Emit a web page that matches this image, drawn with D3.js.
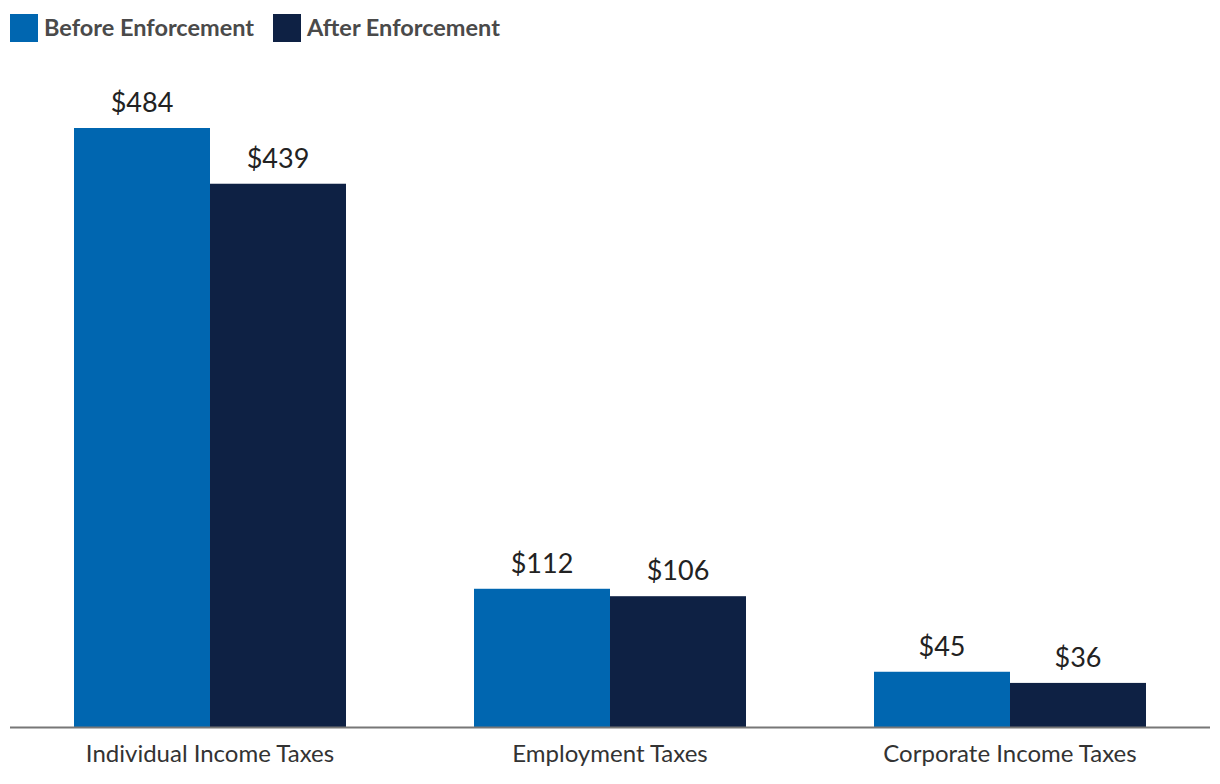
<!DOCTYPE html>
<html><head><meta charset="utf-8">
<script src="https://cdn.jsdelivr.net/npm/d3@7"></script>
<style>body{margin:0;background:#fff;}svg{display:block;font-family:Lato,"Open Sans",sans-serif;}</style>
</head><body>
<svg id="chart" width="1220" height="784"></svg>
<script>
const categories = ["Individual Income Taxes", "Employment Taxes", "Corporate Income Taxes"];
const seriesNames = ["Before Enforcement", "After Enforcement"];
const beforeValues = [484, 112, 45];
const afterValues = [439, 106, 36];
const colors = ["#0066b0", "#0e2144"];

const svg = d3.select("#chart");
const plotLeft = 10, plotRight = 1210, baseline = 727.5, plotTop = 128;

const x0 = d3.scaleBand().domain(categories).range([plotLeft, plotRight]).paddingInner(0.32).paddingOuter(0.16);
const x1 = d3.scaleBand().domain(seriesNames).range([0, x0.bandwidth()]);
const y = d3.scaleLinear().domain([0, 484]).range([baseline, plotTop]);

const data = categories.map((c, i) => ({cat: c, vals: [beforeValues[i], afterValues[i]]}));

const g = svg.selectAll("g.grp").data(data).join("g").attr("class", "grp")
  .attr("transform", d => `translate(${x0(d.cat)},0)`);

g.selectAll("rect").data(d => d.vals.map((v, j) => ({s: seriesNames[j], v, j})))
  .join("rect")
  .attr("x", d => x1(d.s)).attr("width", x1.bandwidth())
  .attr("y", d => y(d.v)).attr("height", d => baseline - y(d.v))
  .attr("fill", d => colors[d.j]);

g.selectAll("text.val").data(d => d.vals.map((v, j) => ({s: seriesNames[j], v, j})))
  .join("text").attr("class", "val")
  .attr("x", d => x1(d.s) + x1.bandwidth() / 2)
  .attr("y", d => y(d.v) - 16)
  .attr("text-anchor", "middle")
  .attr("font-size", 27).attr("fill", "#222")
  .text(d => "$" + d.v);

// axis
const axis = svg.append("g").attr("transform", `translate(0,${baseline})`)
  .call(d3.axisBottom(x0).tickSize(0).tickPadding(0));
axis.select(".domain").attr("stroke", "#777").attr("stroke-width", 2).attr("d", `M${plotLeft},0H${plotRight}`);
axis.selectAll("text").attr("font-size", 24).attr("fill", "#333").attr("font-family", "Lato, sans-serif")
  .attr("dy", null).attr("y", 34.5);

// legend
const legendX = [10, 273];
const lg = svg.selectAll("g.leg").data(seriesNames).join("g").attr("class", "leg")
  .attr("transform", (d, i) => `translate(${legendX[i]},14)`);
lg.append("rect").attr("width", 28).attr("height", 28).attr("fill", (d, i) => colors[i]);
lg.append("text").attr("x", 34).attr("y", 22).attr("font-size", 23.5).attr("font-weight", "bold")
  .attr("fill", "#4a4a4a").text(d => d);
</script>
</body></html>
